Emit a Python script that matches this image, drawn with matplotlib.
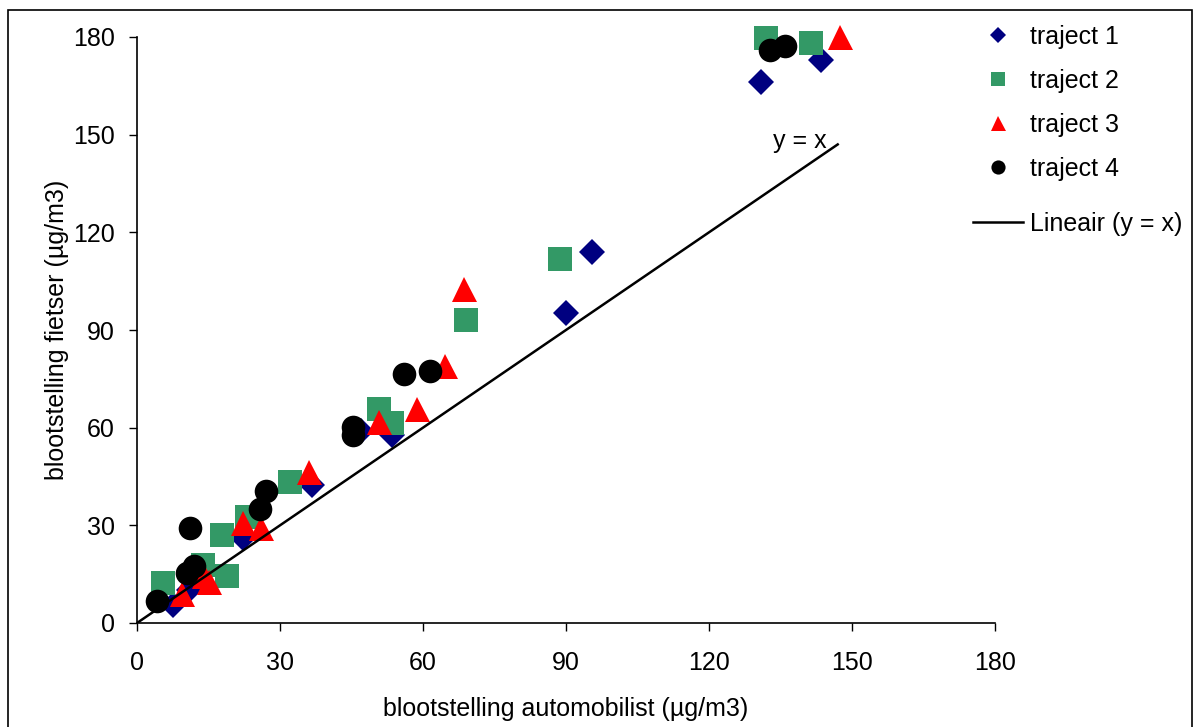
import matplotlib
matplotlib.use("Agg")
import matplotlib.pyplot as plt
from matplotlib.patches import Rectangle

plt.rcParams["font.family"] = ["Liberation Sans", "DejaVu Sans"]

# blootstelling automobilist (x) vs fietser (y), in µg/m3
t1_x = [7.6, 11.0, 22.3, 36.8, 47.0, 53.4, 89.9, 95.5, 131.0, 143.4]
t1_y = [5.5, 10.0, 26.0, 42.5, 59.0, 57.8, 95.1, 114.0, 166.2, 172.8]

t2_x = [5.5, 13.9, 18.8, 17.8, 23.0, 32.2, 50.8, 53.6, 69.0, 88.8, 132.0, 141.4]
t2_y = [12.2, 17.8, 14.5, 27.0, 32.5, 43.3, 65.8, 61.3, 93.2, 111.7, 179.6, 178.3]

t3_x = [9.5, 14.0, 15.0, 22.2, 26.0, 36.0, 50.8, 58.8, 64.6, 68.7, 147.5]
t3_y = [9.0, 14.5, 12.7, 30.6, 29.2, 46.5, 61.8, 65.7, 79.0, 102.5, 180.0]

t4_x = [4.1, 10.4, 12.0, 11.1, 25.8, 27.0, 45.3, 45.3, 56.0, 61.5, 132.9, 136.0]
t4_y = [6.8, 15.3, 17.5, 29.1, 35.0, 40.6, 60.3, 57.8, 76.5, 77.5, 176.0, 177.3]

line_x = [0, 147]
line_y = [0, 147]

ticks = [0, 30, 60, 90, 120, 150, 180]

fig = plt.figure(figsize=(11.96, 7.27), dpi=100)
ax = fig.add_axes([137 / 1196, 1 - 623 / 727, (995 - 137) / 1196, (623 - 37) / 727])

h1, = ax.plot(t1_x, t1_y, "D", color="#000080", ms=13.5, mew=0, clip_on=False, label="traject 1")
h2, = ax.plot(t2_x, t2_y, "s", color="#339966", ms=17, mew=0, clip_on=False, label="traject 2")
h3, = ax.plot(t3_x, t3_y, "^", color="#ff0000", ms=18, mew=0, clip_on=False, label="traject 3")
h4, = ax.plot(t4_x, t4_y, "o", color="black", ms=17, mew=0, clip_on=False, label="traject 4")
h5, = ax.plot(line_x, line_y, "-", color="black", lw=1.8, label="Lineair (y = x)")

ax.text(139, 148, "y = x", fontsize=18, ha="center", va="center")

ax.set_xlim(0, 180)
ax.set_ylim(0, 180)
ax.set_xticks(ticks)
ax.set_yticks(ticks)
ax.tick_params(direction="out", length=6, width=1, labelsize=18, pad=10)
ax.tick_params(axis="x", pad=14)
for s in ["top", "right"]:
    ax.spines[s].set_visible(False)
ax.spines["left"].set_linewidth(1.2)
ax.spines["bottom"].set_linewidth(1.2)
ax.set_xlabel("blootstelling automobilist (µg/m3)", fontsize=18, labelpad=16)
ax.set_ylabel("blootstelling fietser (µg/m3)", fontsize=18, labelpad=3)

leg_opts = dict(loc="upper left", bbox_transform=fig.transFigure, frameon=False,
                fontsize=18, handlelength=2.0, handletextpad=0.3,
                borderpad=0, borderaxespad=0)
leg1 = ax.legend(handles=[h1, h2, h3, h4], bbox_to_anchor=(973 / 1196, 1 - 25 / 727),
                 markerscale=0.6, labelspacing=0.8, **leg_opts)
ax.add_artist(leg1)
ax.legend(handles=[h5], bbox_to_anchor=(973 / 1196, 1 - 212 / 727), **leg_opts)

fig.patches.append(Rectangle((8 / 1196, -0.05), (1192 - 8) / 1196, 1.05 - 10 / 727,
                             transform=fig.transFigure, fill=False,
                             edgecolor="black", lw=1.2))

fig.savefig("out.png", dpi=100)
